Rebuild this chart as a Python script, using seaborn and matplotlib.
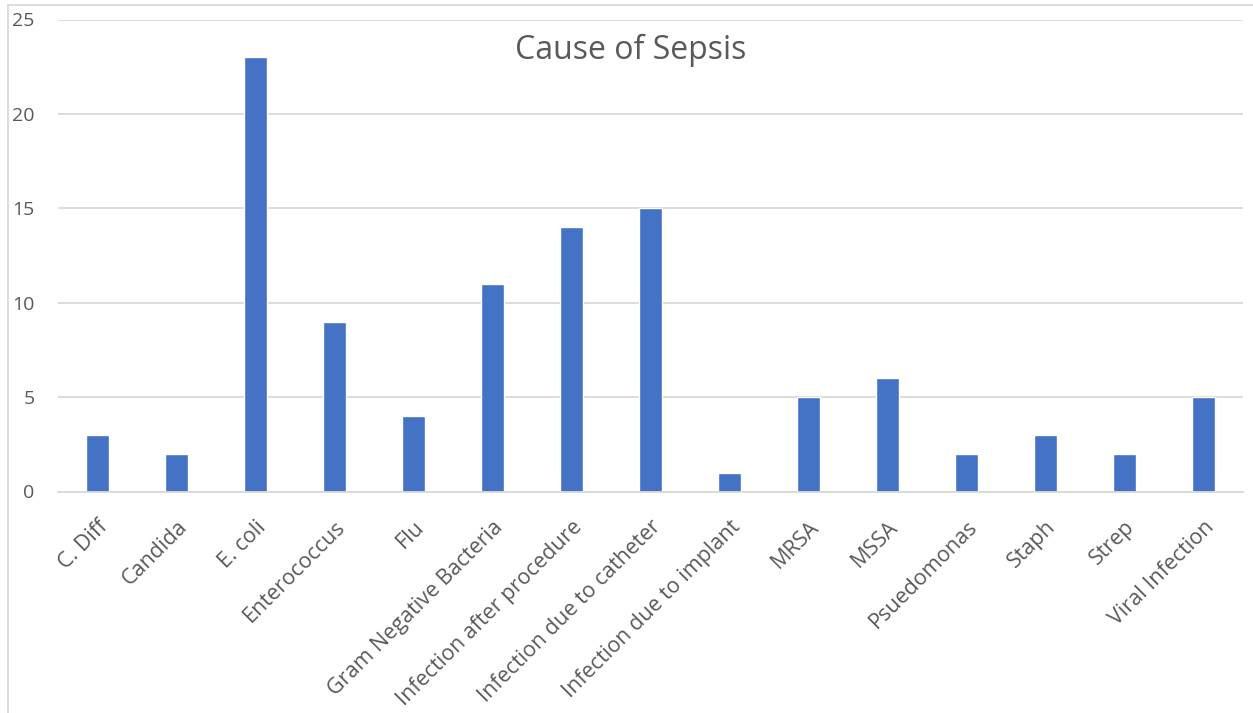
import matplotlib
matplotlib.use("Agg")
import matplotlib.pyplot as plt
import seaborn as sns
import pandas as pd
from matplotlib.lines import Line2D

categories = ["C. Diff", "Candida", "E. coli", "Enterococcus", "Flu",
              "Gram Negative Bacteria", "Infection after procedure",
              "Infection due to catheter", "Infection due to implant",
              "MRSA", "MSSA", "Psuedomonas", "Staph", "Strep", "Viral Infection"]
counts = [3, 2, 23, 9, 4, 11, 14, 15, 1, 5, 6, 2, 3, 2, 5]
yticks = [0, 5, 10, 15, 20, 25]
title = "Cause of Sepsis"

sns.set_theme(style="white")
plt.rcParams['font.family'] = ['Open Sans', 'DejaVu Sans']

W, H = 1253, 713
fig = plt.figure(figsize=(W / 100, H / 100), dpi=100)
ax = fig.add_axes([58 / W, 1 - 491.5 / H, (1243 - 58) / W, (491.5 - 19.5) / H])

df = pd.DataFrame({"cat": categories, "val": counts})
sns.barplot(data=df, x="cat", y="val", color="#4472C4", saturation=1,
            width=0.30, ax=ax)

ax.set_ylim(0, 25)
ax.set_xlim(-0.5, len(categories) - 0.5)
ax.set_yticks(yticks)
ax.set_yticklabels([str(v) for v in yticks], fontsize=14, color="#595959")
ax.yaxis.grid(True, color="#D9D9D9", linewidth=1.3)
ax.set_axisbelow(True)
for s in ["top", "right", "left"]:
    ax.spines[s].set_visible(False)
ax.spines["bottom"].set_color("#D9D9D9")
ax.spines["bottom"].set_linewidth(1.3)
ax.tick_params(axis="y", length=0, pad=17)
ax.tick_params(axis="x", length=0, pad=18)
ax.set_xlabel("")
ax.set_ylabel("")
ax.set_xticks(range(len(categories)))
ax.set_xticklabels(categories, rotation=45, ha="right", rotation_mode="anchor",
                   fontsize=15.5, color="#595959")

fig.text(631 / W, 1 - 50 / H, title, ha="center", va="center",
         fontsize=23, color="#595959")

# chart border (left and top)
fig.add_artist(Line2D([7.5 / W, 7.5 / W], [0, 1 - 5 / H], transform=fig.transFigure,
                      color="#D9D9D9", linewidth=1.3))
fig.add_artist(Line2D([7.5 / W, 1], [1 - 5 / H, 1 - 5 / H], transform=fig.transFigure,
                      color="#D9D9D9", linewidth=1.3))

fig.savefig("out.png", dpi=100)
